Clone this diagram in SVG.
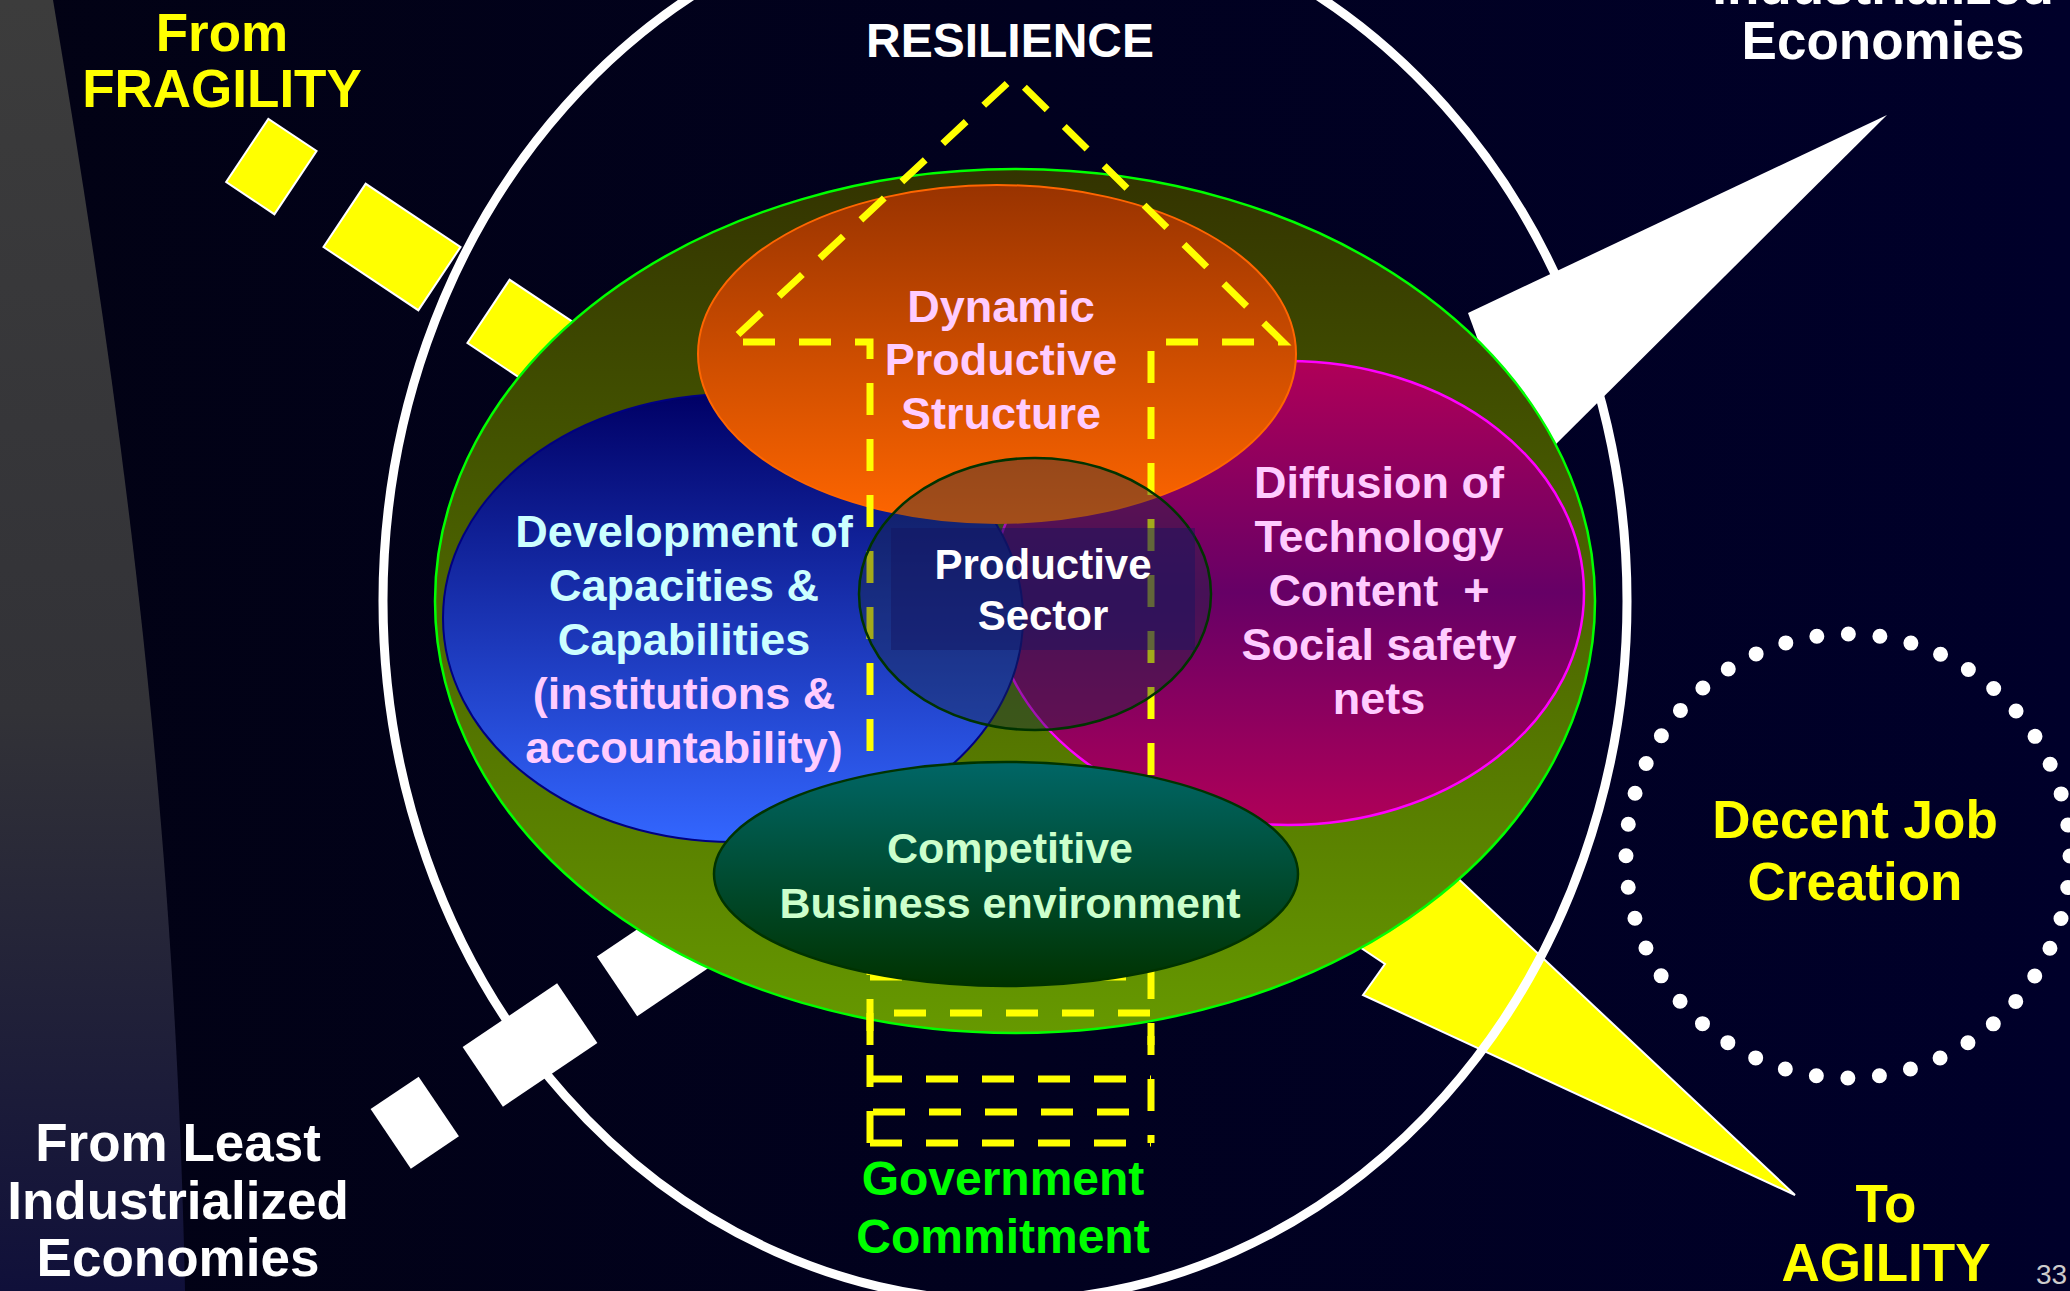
<svg xmlns="http://www.w3.org/2000/svg" width="2070" height="1291" viewBox="0 0 2070 1291">
  <defs>
    <linearGradient id="bg" x1="0" y1="0" x2="1" y2="0">
      <stop offset="0" stop-color="#020214"/>
      <stop offset="1" stop-color="#00002a"/>
    </linearGradient>
    <linearGradient id="band" x1="0" y1="0" x2="0" y2="1">
      <stop offset="0" stop-color="#3c3c3c"/>
      <stop offset="0.55" stop-color="#323237"/>
      <stop offset="1" stop-color="#10103a"/>
    </linearGradient>
    <linearGradient id="olive" x1="0" y1="0" x2="0" y2="1">
      <stop offset="0" stop-color="#333300"/>
      <stop offset="1" stop-color="#669900"/>
    </linearGradient>
    <linearGradient id="orange" x1="0" y1="0" x2="0" y2="1">
      <stop offset="0" stop-color="#993300"/>
      <stop offset="1" stop-color="#ff6600"/>
    </linearGradient>
    <linearGradient id="blue" x1="0" y1="0" x2="0" y2="1">
      <stop offset="0" stop-color="#000066"/>
      <stop offset="1" stop-color="#3366ff"/>
    </linearGradient>
    <linearGradient id="magenta" x1="0" y1="0" x2="0" y2="1">
      <stop offset="0" stop-color="#b00058"/>
      <stop offset="0.5" stop-color="#660066"/>
      <stop offset="1" stop-color="#b00058"/>
    </linearGradient>
    <linearGradient id="teal" x1="0" y1="0" x2="0" y2="1">
      <stop offset="0" stop-color="#006666"/>
      <stop offset="1" stop-color="#003300"/>
    </linearGradient>
    <style>
      .t { font-family: "Liberation Sans", Arial, sans-serif; font-weight: bold; text-anchor: middle; }
      .s53 { font-size: 53px; }
      .s48 { font-size: 48px; }
      .s45 { font-size: 45px; }
      .s43 { font-size: 43px; }
      .s42 { font-size: 42px; }
      .yl { fill: #ffff00; }
      .wh { fill: #ffffff; }
      .pk { fill: #ffccff; }
      .cy { fill: #ccffff; }
      .gn { fill: #00ff00; }
      .lg { fill: #ccffcc; }
      .ybox { fill: #ffff00; stroke: #ffffff; stroke-width: 2; }
      .wbox { fill: #ffffff; }
      .dash { fill: none; stroke: #ffff00; stroke-width: 7; stroke-dasharray: 32 24; }
    </style>
  </defs>

  <!-- backdrop -->
  <rect width="2070" height="1291" fill="url(#bg)"/>
  <path d="M0,0 L53,0 C120,400 175,800 185,1291 L0,1291 Z" fill="url(#band)"/>

  <!-- the two long arrows that run behind the rings -->
  <g id="connectors">
    <g id="arrow-fragility-agility">
      <g transform="translate(392,247) rotate(33.7)">
        <rect class="ybox" x="-174" y="-38" width="58" height="76"/>
        <rect class="ybox" x="-57" y="-38" width="114" height="76"/>
        <rect class="ybox" x="116" y="-38" width="120" height="76"/>
      </g>
      <polygon class="ybox" points="1319,828 1427,901 1448,869 1795,1195 1363,995 1385,964 1276,891"/>
    </g>
    <g id="arrow-least-industrialized">
      <g transform="translate(530,1045) rotate(-34)">
        <rect class="wbox" x="-168" y="-36" width="58" height="72"/>
        <rect class="wbox" x="-57" y="-36" width="114" height="72"/>
        <rect class="wbox" x="105" y="-36" width="110" height="72"/>
      </g>
      <polygon class="wbox" points="1468,313 1887,115 1550,450 1500,400"/>
    </g>
  </g>

  <!-- outer frame ring -->
  <g id="frame">
    <ellipse cx="1005" cy="601" rx="622" ry="700" fill="none" stroke="#ffffff" stroke-width="9"/>
  </g>

  <!-- olive base ring -->
  <g id="base">
    <ellipse cx="1015" cy="601" rx="580" ry="432" fill="url(#olive)" stroke="#00ff00" stroke-width="2.5"/>
  </g>

  <g id="diffusion">
    <ellipse cx="1288" cy="593" rx="296" ry="232" fill="url(#magenta)" stroke="#ff00ff" stroke-width="2.5"/>
    <text class="t s45 pk" x="1379" y="498">Diffusion of</text>
    <text class="t s45 pk" x="1379" y="552">Technology</text>
    <text class="t s45 pk" x="1379" y="606" xml:space="preserve">Content  +</text>
    <text class="t s45 pk" x="1379" y="660">Social safety</text>
    <text class="t s45 pk" x="1379" y="714">nets</text>
  </g>

  <g id="capacities">
    <ellipse cx="733" cy="618" rx="290" ry="224" fill="url(#blue)" stroke="#000080" stroke-width="2"/>
    <text class="t s45 cy" x="684" y="547">Development of</text>
    <text class="t s45 cy" x="684" y="601">Capacities &amp;</text>
    <text class="t s45 cy" x="684" y="655">Capabilities</text>
    <text class="t s45 pk" x="684" y="709">(institutions &amp;</text>
    <text class="t s45 pk" x="684" y="763">accountability)</text>
  </g>

  <g id="structure">
    <ellipse cx="997" cy="354" rx="299" ry="169" fill="url(#orange)" stroke="#ff6600" stroke-width="2"/>
    <text class="t s45 pk" x="1001" y="322">Dynamic</text>
    <text class="t s45 pk" x="1001" y="375">Productive</text>
    <text class="t s45 pk" x="1001" y="429">Structure</text>
  </g>

  <!-- dashed up-arrow from commitment to resilience -->
  <g id="commitment-arrow">
    <path class="dash" d="M870,1143 L870,342 L730,342 L1014,77 L1283,342 L1151,342 L1151,1143"/>
    <path class="dash" d="M870,977 L1151,977"/>
    <path class="dash" d="M870,1045 L870,1013 L1151,1013 L1151,1045"/>
    <path class="dash" d="M870,1079 L1151,1079"/>
    <path class="dash" d="M873,1112 L1151,1112"/>
    <path class="dash" d="M870,1143 L1151,1143"/>
  </g>

  <g id="productive-sector">
    <ellipse cx="1035" cy="594" rx="176" ry="136" fill="#1a2a40" fill-opacity="0.4" stroke="#003300" stroke-width="2.5"/>
    <rect x="891" y="528" width="304" height="122" fill="#141460" fill-opacity="0.45"/>
    <text class="t s42 wh" x="1043" y="579">Productive</text>
    <text class="t s42 wh" x="1043" y="630">Sector</text>
  </g>

  <g id="business">
    <ellipse cx="1006" cy="874" rx="292" ry="112" fill="url(#teal)" stroke="#003300" stroke-width="2.5"/>
    <text class="t s43 lg" x="1010" y="863">Competitive</text>
    <text class="t s43 lg" x="1010" y="918">Business environment</text>
  </g>

  <g id="job-creation">
    <circle cx="1848" cy="856" r="222" fill="none" stroke="#ffffff" stroke-width="15" stroke-linecap="round" stroke-dasharray="0 31.7"/>
    <text class="t s53 yl" x="1855" y="838">Decent Job</text>
    <text class="t s53 yl" x="1855" y="900">Creation</text>
  </g>

  <!-- end labels -->
  <g id="label-fragility">
    <text class="t s53 yl" x="222" y="51">From</text>
    <text class="t s53 yl" x="222" y="107">FRAGILITY</text>
  </g>
  <g id="label-resilience">
    <text class="t s48 wh" x="1010" y="57">RESILIENCE</text>
  </g>
  <g id="label-industrialized">
    <text class="t s53 wh" x="1883" y="4">Industrialized</text>
    <text class="t s53 wh" x="1883" y="59">Economies</text>
  </g>
  <g id="label-least">
    <text class="t s53 wh" x="178" y="1161">From Least</text>
    <text class="t s53 wh" x="178" y="1219">Industrialized</text>
    <text class="t s53 wh" x="178" y="1276">Economies</text>
  </g>
  <g id="label-commitment">
    <text class="t s48 gn" x="1003" y="1195">Government</text>
    <text class="t s48 gn" x="1003" y="1253">Commitment</text>
  </g>
  <g id="label-agility">
    <text class="t s53 yl" x="1886" y="1222">To</text>
    <text class="t s53 yl" x="1886" y="1281">AGILITY</text>
  </g>
  <text x="2036" y="1284" font-family="Liberation Sans, Arial, sans-serif" font-size="28" fill="#cccccc">33</text>
</svg>
